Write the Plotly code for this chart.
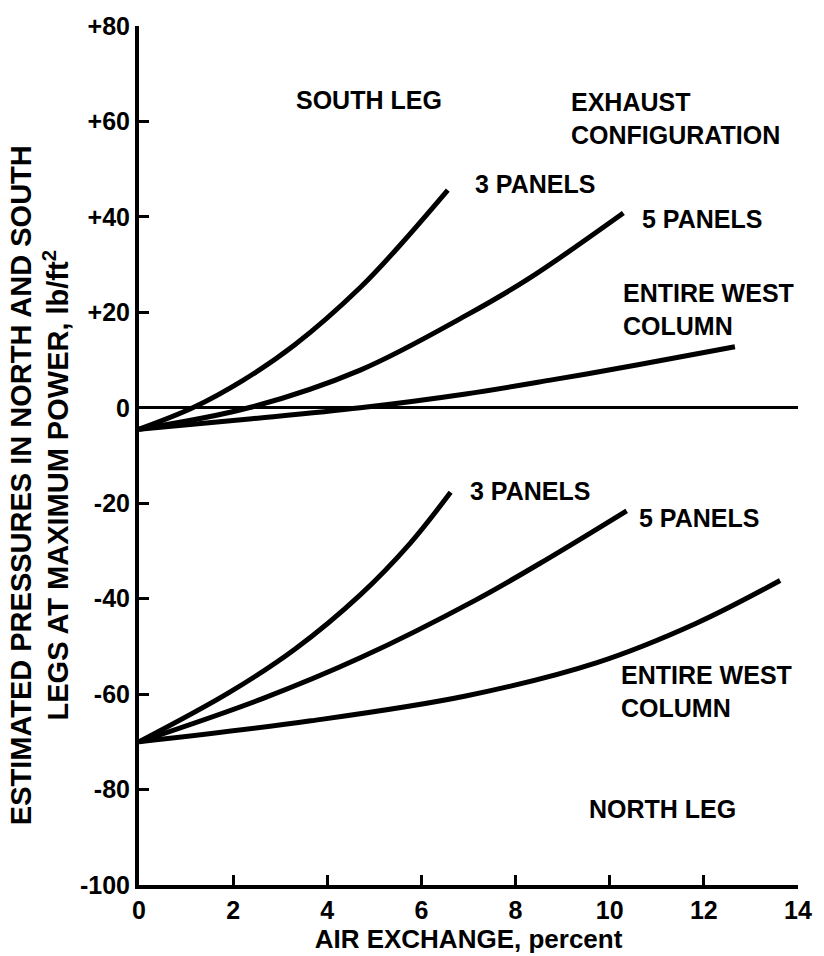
import plotly.graph_objects as go

# ---- data ----
south_3_x = [0, 1.14, 2.2, 3.31, 4.70, 5.54, 6.56]
south_3_y = [-4.5, 0, 5.7, 13.2, 25.2, 34.0, 45.6]
south_5_x = [0, 2.33, 4.70, 6.94, 8.27, 10.29]
south_5_y = [-4.5, 0, 7.9, 19.3, 27.0, 40.8]
south_w_x = [0, 2.4, 4.7, 6.94, 8.8, 10.6, 12.66]
south_w_y = [-4.5, -2.3, 0, 2.9, 5.9, 9.0, 12.8]

north_3_x = [0, 1.91, 3.31, 4.70, 5.76, 6.62]
north_3_y = [-70, -59.7, -50.6, -39.2, -28.4, -17.7]
north_5_x = [0, 2.61, 4.70, 7.15, 8.69, 10.36]
north_5_y = [-70, -61.0, -52.4, -40.3, -31.6, -21.6]
north_w_x = [0, 3.65, 6.94, 9.73, 11.83, 13.62]
north_w_y = [-70, -65.6, -60.4, -53.4, -45.2, -36.2]

x_ticks = [0, 2, 4, 6, 8, 10, 12, 14]
y_ticks = [80, 60, 40, 20, 0, -20, -40, -60, -80, -100]
y_tick_text = ["+80", "+60", "+40", "+20", "0", "-20", "-40", "-60", "-80", "-100"]

x_title = "AIR EXCHANGE, percent"
y_title = "ESTIMATED PRESSURES IN NORTH AND SOUTH<br>LEGS AT MAXIMUM POWER, lb/ft<sup>2</sup>"

labels = [
    ("SOUTH LEG", 4.88, 64.5, "center"),
    ("EXHAUST<br>CONFIGURATION", 9.14, 60.7, "left"),
    ("3 PANELS", 7.09, 46.8, "left"),
    ("5 PANELS", 10.65, 39.6, "left"),
    ("ENTIRE WEST<br>COLUMN", 10.23, 20.5, "left"),
    ("3 PANELS", 6.98, -17.4, "left"),
    ("5 PANELS", 10.57, -23.0, "left"),
    ("ENTIRE WEST<br>COLUMN", 10.19, -59.5, "left"),
    ("NORTH LEG", 11.13, -84.1, "center"),
]

FONT = "Liberation Sans, Arial, sans-serif"

fig = go.Figure()
for xs, ys in [(south_3_x, south_3_y), (south_5_x, south_5_y), (south_w_x, south_w_y),
               (north_3_x, north_3_y), (north_5_x, north_5_y), (north_w_x, north_w_y)]:
    fig.add_trace(go.Scatter(x=xs, y=ys, mode="lines",
                             line=dict(color="black", width=5, shape="spline", smoothing=1.0),
                             showlegend=False, hoverinfo="skip"))

for text, x, y, align in labels:
    fig.add_annotation(x=x, y=y, text=text, showarrow=False,
                       xanchor=align, yanchor="middle", align=align,
                       font=dict(family=FONT, size=25, color="black", weight="bold"))

# y-axis title placed as rotated annotation (centered lower than plot centre, as in reference)
fig.add_annotation(xref="paper", yref="paper", x=-0.151, y=0.466,
                   text=y_title, textangle=-90, showarrow=False,
                   xanchor="center", yanchor="middle", align="center",
                   font=dict(family=FONT, size=29, color="black", weight="bold"))

fig.update_layout(
    width=824, height=956,
    margin=dict(l=139, r=17, t=19, b=70),
    paper_bgcolor="white", plot_bgcolor="white",
    font=dict(family=FONT, color="black", weight="bold"),
    xaxis=dict(range=[0, 14], tickvals=x_ticks, showgrid=False, zeroline=False,
               showline=True, linecolor="black", linewidth=4,
               ticks="inside", ticklen=10, tickwidth=3, tickcolor="black",
               tickfont=dict(family=FONT, size=25, color="black", weight="bold"),
               title=dict(text=x_title, standoff=2,
                          font=dict(family=FONT, size=26, color="black", weight="bold"))),
    yaxis=dict(range=[-100, 80], tickvals=y_ticks, ticktext=y_tick_text,
               showgrid=False, zeroline=True, zerolinecolor="black", zerolinewidth=3,
               showline=True, linecolor="black", linewidth=4,
               ticks="inside", ticklen=10, tickwidth=3, tickcolor="black",
               tickfont=dict(family=FONT, size=25, color="black", weight="bold")),
)

fig.write_html("out.html")
